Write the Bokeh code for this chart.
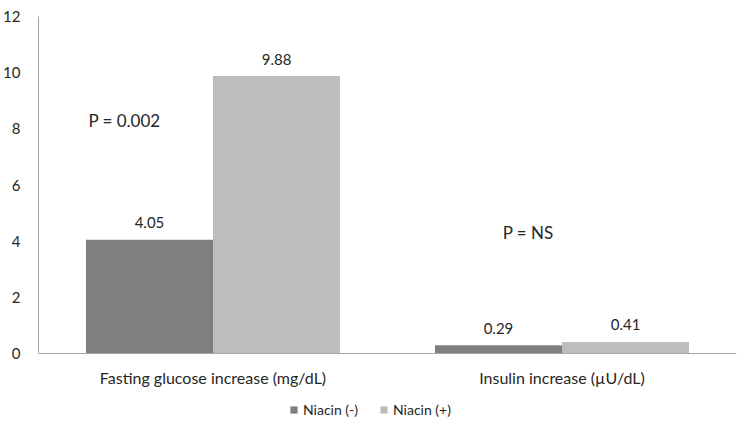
from bokeh.plotting import figure
from bokeh.models import ColumnDataSource, FactorRange, Range1d, Label, Legend, LegendItem, FixedTicker, Span
from bokeh.core.properties import value
from bokeh.transform import dodge
from bokeh.embed import file_html
from bokeh.resources import INLINE

categories = ["Fasting glucose increase (mg/dL)", "Insulin increase (\u00b5U/dL)"]
niacin_neg = [4.05, 0.29]
niacin_pos = [9.88, 0.41]
series_names = ["Niacin (-)", "Niacin (+)"]
y_ticks = [0, 2, 4, 6, 8, 10, 12]
p_labels = ["P = 0.002", "P = NS"]

FONT = "Lato"
TXT = "#262626"
DARK = "#7f7f80"
LIGHT = "#bdbdbe"
AXIS = "#a6a6a6"

src = ColumnDataSource(dict(
    cat=categories,
    zero=[0] * len(categories),
    neg=niacin_neg,
    pos=niacin_pos,
    neg_lbl=[f"{v:.2f}" for v in niacin_neg],
    pos_lbl=[f"{v:.2f}" for v in niacin_pos],
))

p = figure(frame_width=698, frame_height=412, output_backend="svg", toolbar_location=None,
           x_range=FactorRange(*categories, range_padding=0, factor_padding=0),
           y_range=Range1d(-2.67, 12),
           min_border_left=36, min_border_right=1, min_border_top=16, min_border_bottom=0)
p.outline_line_color = None
p.grid.visible = False
p.background_fill_color = "white"
p.xaxis.visible = False

bw = 0.364
r1 = p.vbar(x=dodge("cat", -bw / 2, range=p.x_range), top="neg", width=bw, source=src,
            fill_color=DARK, line_color=None)
r2 = p.vbar(x=dodge("cat", bw / 2, range=p.x_range), top="pos", width=bw, source=src,
            fill_color=LIGHT, line_color=None)

# baseline (category axis line)
p.add_layout(Span(location=0, dimension="width", line_color=AXIS, line_width=1))

# category labels under the baseline
p.text(x="cat", y="zero", text="cat", source=src, text_align="center",
       text_baseline="middle", y_offset=24,
       text_font=value(FONT), text_font_size="16px", text_color=TXT)

p.text(x=dodge("cat", -bw / 2, range=p.x_range), y="neg", text="neg_lbl", source=src,
       text_align="center", text_baseline="middle", y_offset=-17,
       text_font=value(FONT), text_font_size="15px", text_color=TXT)
p.text(x=dodge("cat", bw / 2, range=p.x_range), y="pos", text="pos_lbl", source=src,
       text_align="center", text_baseline="middle", y_offset=-17,
       text_font=value(FONT), text_font_size="15px", text_color=TXT)

p.add_layout(Label(x=0.143, y=8.3, text=p_labels[0], text_baseline="middle",
                   text_font=FONT, text_font_size="17px", text_color=TXT))
p.add_layout(Label(x=1.33, y=4.32, text=p_labels[1], text_baseline="middle",
                   text_font=FONT, text_font_size="17px", text_color=TXT))

p.yaxis.ticker = FixedTicker(ticks=y_ticks)
p.yaxis.bounds = (0, 12)
p.yaxis.major_tick_line_color = None
p.yaxis.minor_tick_line_color = None
p.yaxis.axis_line_color = AXIS
p.yaxis.major_label_standoff = 12
p.yaxis.major_label_text_font = FONT
p.yaxis.major_label_text_font_size = "15px"
p.yaxis.major_label_text_color = TXT

legend = Legend(items=[LegendItem(label=series_names[0], renderers=[r1]),
                       LegendItem(label=series_names[1], renderers=[r2])],
                orientation="horizontal", location=(251, 10),
                label_text_font=FONT, label_text_font_size="14px", label_text_color=TXT,
                glyph_width=9, glyph_height=9, spacing=21, label_standoff=5,
                border_line_color=None, background_fill_alpha=0, margin=0, padding=0)
p.add_layout(legend, "center")

open("out.html", "w").write(file_html(p, INLINE))
